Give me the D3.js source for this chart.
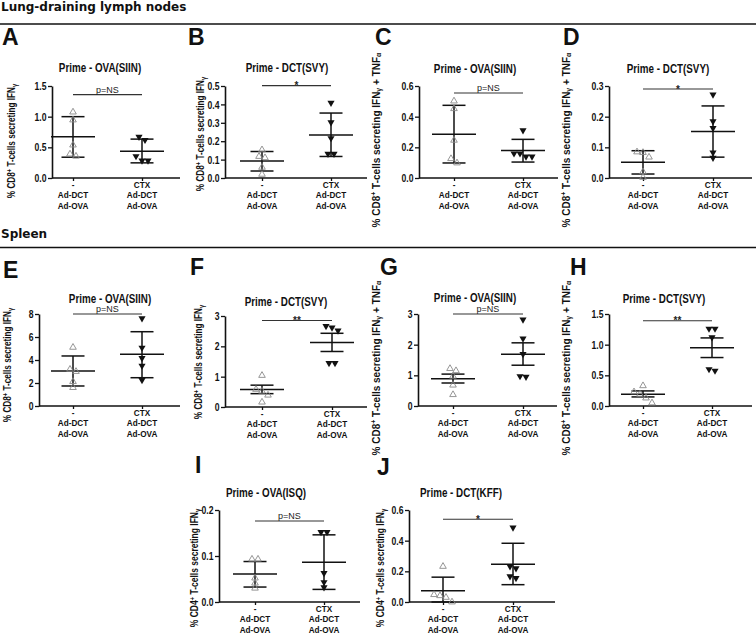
<!DOCTYPE html>
<html><head><meta charset="utf-8">
<script src="https://cdn.jsdelivr.net/npm/d3@7/dist/d3.min.js"></script>
<style>body{margin:0;background:#fff}svg{display:block}</style>
</head><body>
<svg id="c" width="756" height="635"></svg>
<script>
// ---------------- DATA ----------------
const sectionHeaders = ["Lung-draining lymph nodes", "Spleen"];
const panelIds = ["A","B","C","D","E","F","G","H","I","J"];
const titles = ["Prime - OVA(SIIN)","Prime - DCT(SVY)","Prime - OVA(SIIN)","Prime - DCT(SVY)",
                "Prime - OVA(SIIN)","Prime - DCT(SVY)","Prime - OVA(SIIN)","Prime - DCT(SVY)",
                "Prime - OVA(ISQ)","Prime - DCT(KFF)"];
const yLabelParts = {
  cd8ifn: [["% CD8",""],["+","sup"],[" T-cells secreting IFN",""],["γ","sub"]],
  cd8both: [["% CD8",""],["+","sup"],[" T-cells secreting IFN",""],["γ","sub"],[" + TNF",""],["α","sub"]],
  cd4ifn: [["% CD4",""],["+","sup"],[" T-cells secreting IFN",""],["γ","sub"]]
};
const yLabelKinds = ["cd8ifn","cd8ifn","cd8both","cd8both","cd8ifn","cd8ifn","cd8both","cd8both","cd4ifn","cd4ifn"];
const yMaxes = [1.5, 0.5, 0.6, 0.3, 8, 3, 3, 1.5, 0.2, 0.6];
const yTickValues = [[0,0.5,1,1.5],[0,0.1,0.2,0.3,0.4,0.5],[0,0.2,0.4,0.6],[0,0.1,0.2,0.3],
                     [0,2,4,6,8],[0,1,2,3],[0,1,2,3],[0,0.5,1,1.5],[0,0.1,0.2],[0,0.2,0.4,0.6]];
const yTickFormats = [".1f",".1f",".1f",".1f","d","d","d",".1f",".1f",".1f"];
const groupKeys = ["control","ctx"];
const categoryLines = [["-","Ad-DCT","Ad-OVA"],["CTX","Ad-DCT","Ad-OVA"]];
const group1Values = [
  [1.075,0.946,0.537,0.39,0.355],
  [0.153,0.117,0.11,0.058,0.02],
  [0.502,0.452,0.246,0.126,0.098],
  [0.085,0.083,0.068,0.02,0.002],
  [5.1,3.19,3.0,2.12,1.6],
  [1.04,0.58,0.52,0.39,0.16],
  [1.22,1.15,0.97,0.68,0.37],
  [0.33,0.23,0.19,0.13,0.05],
  [0.093,0.093,0.052,0.041,0.03],
  [0.232,0.048,0.041,0.03,0.0]
];
const group2Values = [
  [0.67,0.62,0.355,0.285,0.285],
  [0.408,0.302,0.216,0.131,0.131],
  [0.311,0.16,0.14,0.14,0.16],
  [0.272,0.185,0.163,0.083,0.066],
  [7.62,5.07,4.17,3.5,2.26],
  [2.67,2.62,2.52,1.45,1.45],
  [2.82,2.2,1.69,0.97,0.95],
  [1.26,1.26,1.12,0.6,0.575],
  [0.152,0.152,0.063,0.043,0.032],
  [0.485,0.232,0.22,0.167,0.156]
];
// [mean, lower bar, upper bar]
const group1Stats = [[0.672,0.339,1.0],[0.092,0.038,0.144],[0.285,0.098,0.474],[0.051,0.013,0.089],
  [3.04,1.74,4.35],[0.58,0.44,0.72],[0.89,0.75,1.04],[0.19,0.148,0.246],[0.0606,0.0325,0.088],[0.074,0.0,0.162]];
const group2Stats = [[0.435,0.247,0.634],[0.234,0.117,0.353],[0.18,0.104,0.252],[0.152,0.068,0.235],
  [4.49,2.46,6.46],[2.13,1.83,2.43],[1.69,1.33,2.06],[0.95,0.79,1.11],[0.0866,0.0274,0.146],[0.247,0.113,0.383]];
const sigLabels = ["p=NS","*","p=NS","*","p=NS","**","p=NS","**","p=NS","*"];
const sigLevels = [1.36,0.502,0.554,0.29,8.0,2.85,3.0,1.39,0.176,0.54];

// ---------------- LAYOUT ----------------
const layout = [
 {lx:2,  ly:45, ax:52,  xe:180, c1:73,  c2:142, top:86,  bot:178, tx:100, ty:72,  labx:13,  laby:141},
 {lx:188,ly:45, ax:225, xe:367, c1:262, c2:331, top:86,  bot:178, tx:287, ty:72,  labx:202, laby:134},
 {lx:375,ly:45, ax:419, xe:558, c1:454, c2:523, top:86,  bot:178, tx:475, ty:73,  labx:377, laby:140},
 {lx:563,ly:45, ax:609, xe:752, c1:643, c2:713, top:86,  bot:178, tx:668, ty:73,  labx:567, laby:140},
 {lx:3,  ly:278,ax:39,  xe:180, c1:73,  c2:142, top:314, bot:406, tx:110, ty:303, labx:9,   laby:365},
 {lx:190,ly:275,ax:225, xe:367, c1:262, c2:332, top:316, bot:407, tx:286, ty:306, labx:200, laby:362},
 {lx:380,ly:275,ax:418, xe:557, c1:453, c2:523, top:314, bot:406, tx:475, ty:302, labx:377, laby:368},
 {lx:570,ly:275,ax:609, xe:752, c1:643, c2:712, top:314, bot:406, tx:664, ty:303, labx:567, laby:368},
 {lx:195,ly:473,ax:219, xe:360, c1:255, c2:324, top:510, bot:602, tx:266, ty:497, labx:196, laby:568},
 {lx:377,ly:475,ax:409, xe:555, c1:443, c2:513, top:510, bot:602, tx:461, ty:497, labx:382, laby:568}
];
const FR = "'Liberation Sans',Arial,sans-serif";
const INK = "#111";
const SQ = 0.82; // horizontal condensing of the narrow label font
const labelSquash = {cd8ifn:0.82, cd8both:1.0, cd4ifn:0.85};

const svg = d3.select("#c");
function ntext(parent, x, y, str, size, anchor, rot, sq){
  return parent.append("text")
    .attr("transform",`translate(${x},${y})${rot?` rotate(${rot})`:""} scale(${sq||SQ},1)`)
    .attr("text-anchor",anchor||"start").attr("font-family",FR).attr("font-weight","bold")
    .attr("font-size",size).attr("fill",INK).text(str);
}

// section headers
[[sectionHeaders[0],10.5,24],[sectionHeaders[1],237.5,247.5]].forEach(([t,ty,ry])=>{
  svg.append("text").attr("x",1).attr("y",ty).text(t)
    .attr("font-family","'DejaVu Sans',Verdana,sans-serif").attr("font-weight","bold").attr("font-size",12).attr("fill",INK);
  svg.append("line").attr("x1",0).attr("x2",756).attr("y1",ry).attr("y2",ry).attr("stroke",INK).attr("stroke-width",1.5);
});

function dodge(vals, y, cx, gap, step){
  const pts = vals.map(v=>({v, py:y(v)})).sort((a,b)=>a.py-b.py);
  const clusters=[]; let cur=[];
  pts.forEach(p=>{ if(cur.length && p.py-cur[cur.length-1].py>gap){clusters.push(cur);cur=[];} cur.push(p); });
  if(cur.length) clusters.push(cur);
  clusters.forEach(c=>c.forEach((p,i)=>{p.px = cx+(i-(c.length-1)/2)*step;}));
  return pts;
}

panelIds.forEach((id,i)=>{
  const L = layout[i];
  const g = svg.append("g");
  const y = d3.scaleLinear().domain([0,yMaxes[i]]).range([L.bot,L.top]);
  const x = d3.scalePoint().domain(groupKeys).range([L.c1,L.c2]);

  g.append("text").attr("x",L.lx).attr("y",L.ly).text(id)
    .attr("font-family",FR).attr("font-weight","bold").attr("font-size",23).attr("fill",INK);
  ntext(g, L.tx, L.ty, titles[i], 12, "middle");

  // y axis
  const ya = g.append("g").attr("transform",`translate(${L.ax},0)`)
    .call(d3.axisLeft(y).tickValues(yTickValues[i]).tickFormat(d3.format(yTickFormats[i])).tickSize(4).tickSizeOuter(0));
  ya.select(".domain").attr("stroke",INK).attr("stroke-width",1.6);
  ya.selectAll(".tick line").attr("stroke",INK).attr("stroke-width",1.3);
  ya.selectAll(".tick text").remove();
  ya.selectAll(".tick").each(function(d){
    ntext(d3.select(this), -5.5, 3.6, d3.format(yTickFormats[i])(d), 10.5, "end");
  });

  // x axis
  g.append("line").attr("x1",L.ax).attr("x2",L.xe).attr("y1",L.bot).attr("y2",L.bot).attr("stroke",INK).attr("stroke-width",1.6);
  const xa = g.append("g").attr("transform",`translate(0,${L.bot})`).call(d3.axisBottom(x).tickFormat("").tickSize(3));
  xa.select(".domain").remove();
  xa.selectAll(".tick line").attr("stroke",INK).attr("stroke-width",1.3);
  groupKeys.forEach((k,gi)=>{
    categoryLines[gi].forEach((t,li)=>{
      ntext(g, x(k), L.bot+10+li*10.45, t, 9.3, "middle", 0, 0.88);
    });
  });

  // y label
  const kind0 = yLabelKinds[i];
  const lab = ntext(g, L.labx, L.laby, null, 10, "middle", -90, labelSquash[kind0]).attr("dominant-baseline","middle");
  let shift = 0;
  yLabelParts[kind0].forEach(([t,kind])=>{
    const target = kind==="sup"?-3.5:kind==="sub"?2.2:0;
    lab.append("tspan").attr("dy",target-shift).attr("font-size",kind?7:10).text(t);
    shift = target;
  });

  // error bars & means
  [group1Stats[i],group2Stats[i]].forEach((s,gi)=>{
    const cx = x(groupKeys[gi]);
    const ls = g.append("g").attr("stroke",INK).attr("stroke-width",1.5);
    ls.append("line").attr("x1",cx).attr("x2",cx).attr("y1",y(s[1])).attr("y2",y(s[2]));
    ls.append("line").attr("x1",cx-22).attr("x2",cx+22).attr("y1",y(s[0])).attr("y2",y(s[0]));
    [s[1],s[2]].forEach(v=>ls.append("line").attr("x1",cx-11.5).attr("x2",cx+11.5).attr("y1",y(v)).attr("y2",y(v)));
  });

  // points
  const tri = d3.symbol(d3.symbolTriangle, 19)();
  dodge(group1Values[i], y, x(groupKeys[0]), 5, 6).forEach(p=>{
    g.append("path").attr("d",tri).attr("transform",`translate(${p.px},${p.py})`)
      .attr("fill","none").attr("stroke","#8a8a8a").attr("stroke-width",0.9);
  });
  const tri2 = d3.symbol(d3.symbolTriangle, 22)();
  dodge(group2Values[i], y, x(groupKeys[1]), 5, 6).forEach(p=>{
    g.append("path").attr("d",tri2).attr("transform",`translate(${p.px},${p.py}) rotate(180)`)
      .attr("fill",INK);
  });

  // significance
  const sy = y(sigLevels[i]);
  g.append("line").attr("x1",L.c1).attr("x2",L.c2).attr("y1",sy).attr("y2",sy).attr("stroke","#333").attr("stroke-width",1.1);
  const isStar = sigLabels[i].startsWith("*");
  g.append("text").attr("x",(L.c1+L.c2)/2).attr("y",isStar?sy+3.5:sy-1.8).attr("text-anchor","middle").text(sigLabels[i])
    .attr("font-family",FR).attr("font-weight",isStar?"bold":"normal").attr("font-size",isStar?10:9).attr("fill","#222");
});
</script>
</body></html>
